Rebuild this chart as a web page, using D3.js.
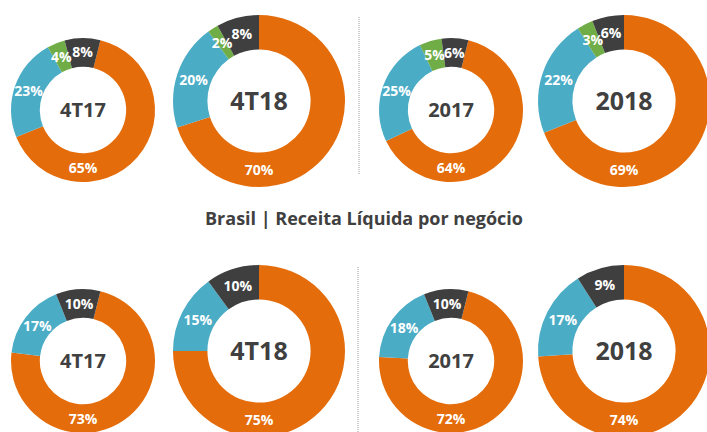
<!DOCTYPE html>
<html>
<head>
<meta charset="utf-8">
<script src="https://cdn.jsdelivr.net/npm/d3@7"></script>
<style>
  body { margin: 0; background: #fff; }
  svg text { font-family: "Open Sans", "Segoe UI", sans-serif; font-weight: 700; }
</style>
</head>
<body>
<div id="chart"></div>
<script>
// chart data
var periods = ["4T17", "4T18", "2017", "2018"];
var segments = ["laranja", "azul", "verde", "cinza"];
var topValues = [
  [65, 23, 4, 8],
  [70, 20, 2, 8],
  [64, 25, 5, 6],
  [69, 22, 3, 6]
];
var bottomValues = [
  [73, 17, 0, 10],
  [75, 15, 0, 10],
  [72, 18, 0, 10],
  [74, 17, 0, 9]
];
var title = "Brasil | Receita Líquida por negócio";

// svg size
var svgWidth = 707;
var svgHeight = 432;

var svg = d3.select("#chart")
  .append("svg")
  .attr("width", svgWidth)
  .attr("height", svgHeight);

var color = d3.scaleOrdinal()
  .domain(segments)
  .range(["#E46C0A", "#4BACC6", "#70AD47", "#3F3F3F"]);

// layout of each donut column: center x, outer radius, start rotation (deg)
var cols = [
  {x: 83,  r: 72, rot: 14, font: 20},
  {x: 259, r: 86, rot: 0,  font: 25},
  {x: 451, r: 72, rot: 14, font: 20},
  {x: 624, r: 86, rot: 0,  font: 25}
];
var rows = [
  {values: topValues, yBig: 101, ySmall: 110},
  {values: bottomValues, yBig: 351, ySmall: 361}
];

var pie = d3.pie().sort(null).value(d => d.value);

rows.forEach(function(row) {
  row.values.forEach(function(vals, i) {
    var c = cols[i];
    var cy = c.r > 80 ? row.yBig : row.ySmall;
    var inner = c.r * 0.6;
    var rot = c.rot * Math.PI / 180;
    var arc = d3.arc().innerRadius(inner).outerRadius(c.r);
    var mid = (inner + c.r) / 2;

    var data = segments.map((s, j) => ({seg: s, value: vals[j]}));
    var arcs = pie.startAngle(rot).endAngle(rot + 2 * Math.PI)(data)
      .filter(d => d.data.value > 0);

    var g = svg.append("g")
      .attr("transform", `translate(${c.x}, ${cy})`);

    g.selectAll("path")
      .data(arcs)
      .enter()
      .append("path")
      .attr("d", arc)
      .attr("fill", d => color(d.data.seg));

    // big slice label sits at the bottom of the ring, others on their centroid
    g.selectAll("text.pct")
      .data(arcs)
      .enter()
      .append("text")
      .attr("class", "pct")
      .attr("transform", function(d) {
        if (d.data.seg == "laranja") return `translate(0, ${mid})`;
        return `translate(${arc.centroid(d)})`;
      })
      .attr("text-anchor", "middle")
      .attr("dy", "0.36em")
      .attr("fill", "#fff")
      .style("font-size", "14px")
      .text(d => d.data.value + "%");

    g.append("text")
      .attr("text-anchor", "middle")
      .attr("dy", "0.36em")
      .attr("fill", "#404040")
      .style("font-size", c.font + "px")
      .text(periods[i]);
  });
});

// title between the rows
svg.append("text")
  .attr("x", 364)
  .attr("y", 225)
  .attr("text-anchor", "middle")
  .attr("fill", "#404040")
  .style("font-size", "18px")
  .text(title);

// dotted separators
svg.append("line")
  .attr("x1", 359).attr("x2", 359)
  .attr("y1", 17).attr("y2", 175)
  .attr("stroke", "#999")
  .attr("stroke-dasharray", "1,1");

svg.append("line")
  .attr("x1", 358).attr("x2", 358)
  .attr("y1", 267).attr("y2", 432)
  .attr("stroke", "#999")
  .attr("stroke-dasharray", "1,1");
</script>
</body>
</html>
